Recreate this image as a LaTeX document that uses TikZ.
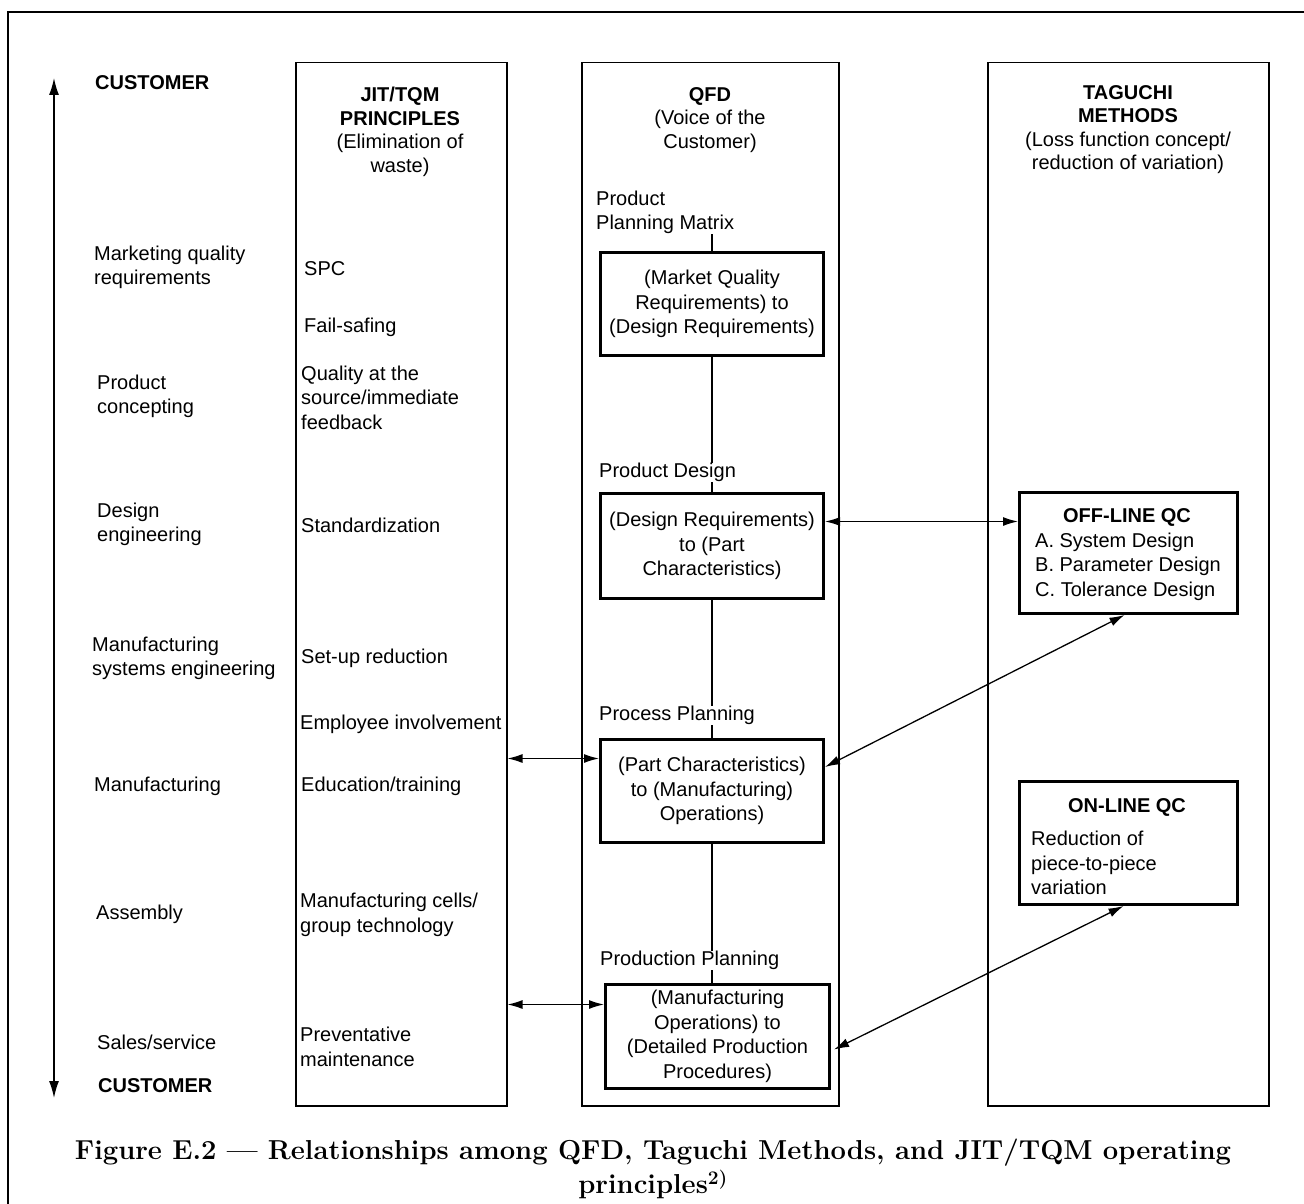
\documentclass[tikz,border=0pt]{standalone}
\usepackage{fontspec}
\newfontfamily\helv{Liberation Sans}
\usetikzlibrary{arrows.meta}
\begin{document}
\begin{tikzpicture}[x=1pt,y=-1pt,
  txt/.style={font=\helv\fontsize{20}{24.3}\selectfont, inner sep=0pt, align=left, anchor=north west, yshift=-2pt},
  head/.style={font=\helv\fontsize{20}{23.6}\selectfont, inner sep=0pt, align=center, anchor=north, yshift=-2pt},
  column/.style={draw, line width=1.5pt, inner sep=0pt, anchor=north west},
  stagebox/.style={draw, line width=3pt, inner sep=0pt, anchor=north west,
    font=\helv\fontsize{20}{24.5}\selectfont, align=center},
  qcbox/.style={draw, line width=3pt, inner sep=0pt, anchor=north west},
  link/.style={line width=1.2pt},
  dbl/.style={line width=1.3pt, {Latex[length=15pt,width=9pt]}-{Latex[length=15pt,width=9pt]}}
]
\useasboundingbox (0,0) rectangle (1304,1204);

% frame
\draw[line width=1.3pt] (1304,12) -- (8,12) -- (8,1204);

% customer axis
\node[txt, font=\helv\bfseries\fontsize{20}{24}\selectfont] (custtop) at (95,73) {CUSTOMER};
\node[txt, font=\helv\bfseries\fontsize{20}{24}\selectfont] (custbot) at (98,1076) {CUSTOMER};
\coordinate (axtop) at (54,78);
\coordinate (axbot) at (54,1098);
\draw[line width=1.5pt, {Latex[length=17pt,width=10pt]}-{Latex[length=17pt,width=10pt]}] (axtop) -- (axbot);

% stages
\node[txt] (mq)  at (94,244)  {Marketing quality\\requirements};
\node[txt] (pc)  at (97,373)  {Product\\concepting};
\node[txt] (de)  at (97,501)  {Design\\engineering};
\node[txt] (mse) at (92,635)  {Manufacturing\\systems engineering};
\node[txt] (mf)  at (94,775)  {Manufacturing};
\node[txt] (asm) at (96,903)  {Assembly};
\node[txt] (ss)  at (97,1033) {Sales/service};

% three columns
\node[column, minimum width=211, minimum height=1043] (jit) at (295,62) {};
\node[column, minimum width=257, minimum height=1043] (qfd) at (581,62) {};
\node[column, minimum width=281, minimum height=1043] (tag) at (987,62) {};

\node[head] (jith) at (400,85) {\textbf{JIT/TQM}\\\textbf{PRINCIPLES}\\(Elimination of\\waste)};
\node[head] (qfdh) at (710,85) {\textbf{QFD}\\(Voice of the\\Customer)};
\node[head] (tagh) at (1128,83) {\textbf{TAGUCHI}\\\textbf{METHODS}\\(Loss function concept/\\reduction of variation)};

% JIT/TQM principles
\node[txt] (spc) at (304,259)  {SPC};
\node[txt] (fs)  at (304,316)  {Fail-safing};
\node[txt] (qs)  at (301,364)  {Quality at the\\source/immediate\\feedback};
\node[txt] (std) at (301,516)  {Standardization};
\node[txt] (sur) at (301,647)  {Set-up reduction};
\node[txt] (ei)  at (300,713)  {Employee involvement};
\node[txt] (et)  at (301,775)  {Education/training};
\node[txt] (mc)  at (300,891)  {Manufacturing cells/\\group technology};
\node[txt] (pm)  at (300,1025) {Preventative\\maintenance};

% QFD stages
\node[txt] (ppm)   at (596,189) {Product\\Planning Matrix};
\node[txt] (pd)    at (599,461) {Product Design};
\node[txt] (procp) at (599,704) {Process Planning};
\node[txt] (prodp) at (600,949) {Production Planning};

\node[stagebox, minimum width=223, minimum height=103] (b1) at (599,251)
  {(Market Quality\\Requirements) to\\(Design Requirements)};
\node[stagebox, minimum width=223, minimum height=105] (b2) at (599,492)
  {(Design Requirements)\\to (Part\\Characteristics)};
\node[stagebox, minimum width=223, minimum height=103] (b3) at (599,738)
  {(Part Characteristics)\\to (Manufacturing)\\Operations)};
\node[stagebox, minimum width=224, minimum height=104] (b4) at (604,983)
  {(Manufacturing\\Operations) to\\(Detailed Production\\Procedures)};

\draw[link] (b1.north) -- (b1.north |- ppm.south);
\draw[link] (b1.south) -- (b1.south |- pd.north);
\draw[link] (b2.north) -- (b2.north |- pd.south);
\draw[link] (b2.south) -- (b2.south |- procp.north);
\draw[link] (b3.north) -- (b3.north |- procp.south);
\draw[link] (b3.south) -- (b3.south |- prodp.north);
\draw[link] (b4.north -| b3.south) -- (prodp.south -| b3.south);

% Taguchi quality control
\node[qcbox, minimum width=218, minimum height=121] (off) at (1018,491) {};
\node[txt, font=\helv\bfseries\fontsize{20}{24}\selectfont, anchor=north] (offt) at (1127,506) {OFF-LINE QC};
\node[txt] (offl) at (1035,531) {A. System Design\\B. Parameter Design\\C. Tolerance Design};

\node[qcbox, minimum width=218, minimum height=123] (on) at (1018,780) {};
\node[txt, font=\helv\bfseries\fontsize{20}{24}\selectfont, anchor=north] (ont) at (1127,796) {ON-LINE QC};
\node[txt] (onl) at (1031,829) {Reduction of\\piece-to-piece\\variation};

% attachment points on the stage boxes
\coordinate (b2r) at ([yshift=24.5pt]b2.east);
\coordinate (b3r) at ([yshift=24pt]b3.east);
\coordinate (b4r) at ([yshift=-13pt,xshift=3pt]b4.east);
\coordinate (b3l) at ([yshift=32.5pt]b3.west);
\coordinate (b4l) at ([yshift=32pt]b4.west);
\coordinate (offb) at ([xshift=-4pt]off.south);
\coordinate (onb) at ([xshift=-5pt]on.south);

% relationships
\draw[dbl] (b2r) -- (off.west |- b2r);
\draw[dbl] (offb) -- (b3r);
\draw[dbl] (onb) -- (b4r);
\draw[dbl] (jit.east |- b3l) -- (b3l);
\draw[dbl] (jit.east |- b4l) -- (b4l);

% caption
\node[inner sep=0pt, align=center, anchor=north, font=\bfseries\fontsize{27.4}{34}\selectfont] (cap) at (653,1139)
  {Figure E.2 --- Relationships among QFD, Taguchi Methods, and JIT/TQM operating\\principles\textsuperscript{2)}};
\end{tikzpicture}
\end{document}
